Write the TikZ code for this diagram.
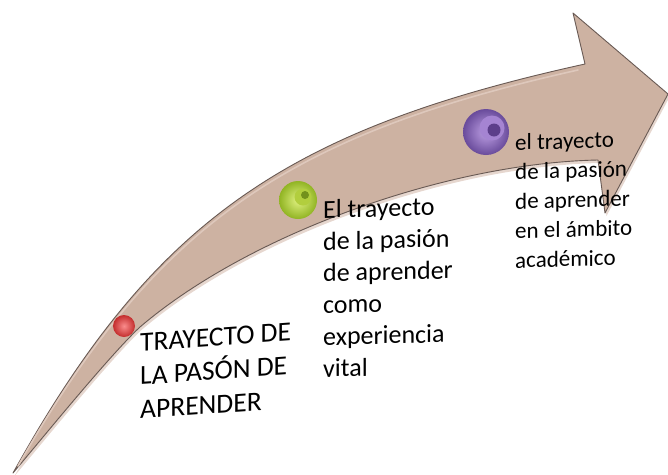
\documentclass[tikz,border=0pt]{standalone}
\usepackage{fontspec}
\setmainfont{Carlito}
\definecolor{bandfill}{RGB}{205,178,162}
\definecolor{bandline}{RGB}{105,90,84}
\definecolor{bandshadow}{RGB}{230,215,207}
\definecolor{bandlight}{RGB}{222,200,188}
\newcommand{\myarrowpath}{(13,473) .. controls (153,221) and (285,130) .. (585,64) -- (573,13) -- (668,94) -- (605,213) -- (598,160) .. controls (448,163) and (250,233) .. (140,327) .. controls (110,355) and (45,435) .. (13,473) -- cycle}
\tikzset{
  band/.style={fill=bandfill, draw=bandline, line width=0.9pt, line join=round},
  bandshade/.style={fill=bandshadow},
  dot/.style={circle, inner sep=0pt, draw=none},
  label1/.style={anchor=north west, inner sep=0pt, align=left, font=\fontsize{27.5}{33.8}\selectfont},
  label2/.style={anchor=north west, inner sep=0pt, align=left, font=\fontsize{26}{31.8}\selectfont},
  label3/.style={anchor=north west, inner sep=0pt, align=left, font=\fontsize{23}{29.5}\selectfont}
}
\begin{document}
\begin{tikzpicture}[x=1pt,y=-1pt]
\useasboundingbox (0,0) rectangle (668,474);
% shadow and arrow body
\begin{scope}[shift={(1.5,3)}]
\path[bandshade] \myarrowpath;
\end{scope}
\path[band] \myarrowpath;
% soft highlight inside the upper edge
\draw[bandlight, line width=1.6pt, line cap=round] (18,466) .. controls (156,224) and (287,135) .. (578,70);
% red dot
\node[dot, minimum size=22pt, shading=radial, inner color={rgb,255:red,250;green,140;blue,140}, outer color={rgb,255:red,195;green,45;blue,45}] (c1) at (124,326) {};
% green dot
\node[dot, minimum size=38pt, shading=radial, inner color={rgb,255:red,225;green,242;blue,130}, outer color={rgb,255:red,145;green,180;blue,35}] (c2) at (298,200) {};
\node[dot, minimum size=17pt, fill={rgb,255:red,178;green,206;blue,62}] (c2in) at (303,197) {};
\node[dot, minimum size=8pt, fill={rgb,255:red,115;green,145;blue,28}] (c2hole) at (305,195) {};
% purple dot
\node[dot, minimum size=46pt, shading=radial, inner color={rgb,255:red,190;green,160;blue,228}, outer color={rgb,255:red,105;green,75;blue,155}] (c3) at (486,132) {};
\node[dot, minimum size=25pt, fill={rgb,255:red,165;green,132;blue,210}] (c3in) at (492,128) {};
\node[dot, minimum size=13pt, fill={rgb,255:red,92;green,62;blue,138}] (c3hole) at (494,130) {};
% texts (baselines slanted, left edges vertical)
\begin{scope}[shift={(140,327)}]
\node[label1, cm={1,0.07,0,1,(0,0)}, transform shape] (t1) at (0,0) {\rule{0pt}{24pt}TRAYECTO DE\\LA PASÓN DE\\APRENDER};
\end{scope}
\begin{scope}[shift={(323,196)}]
\node[label2, cm={1,0.025,0,1,(0,0)}, transform shape] (t2) at (0,0) {\rule{0pt}{22pt}El trayecto\\de la pasión\\de aprender\\como\\experiencia\\vital};
\end{scope}
\begin{scope}[shift={(515,130)}]
\node[label3, cm={1,0.028,0,1,(0,0)}, transform shape] (t3) at (0,0) {\rule{0pt}{20pt}el trayecto\\de la pasión\\de aprender\\en el ámbito\\académico};
\end{scope}
\end{tikzpicture}
\end{document}
